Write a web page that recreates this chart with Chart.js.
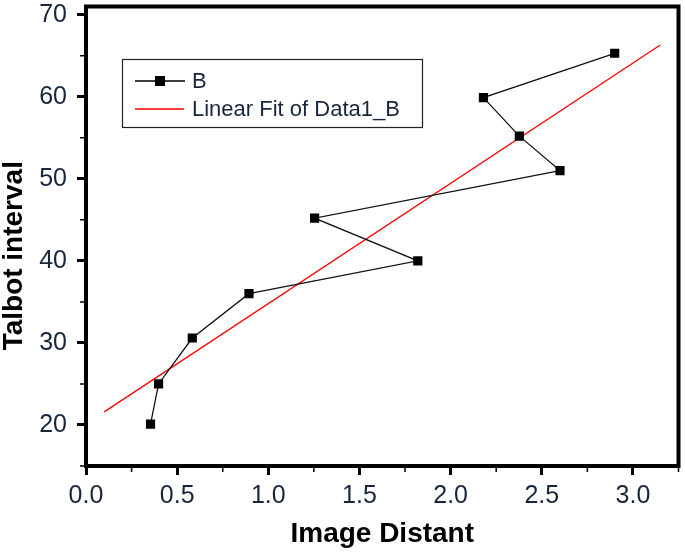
<!DOCTYPE html>
<html>
<head>
<meta charset="utf-8">
<script src="https://cdn.jsdelivr.net/npm/chart.js@4"></script>
<style>
  html, body { margin: 0; padding: 0; background: #fff; }
  #wrap { width: 685px; height: 552px; }
</style>
</head>
<body>
<div id="wrap"><canvas id="talbot-chart"></canvas></div>
<script>
// measured points (image distant vs talbot interval)
const imageDistant = [0.354, 0.398, 0.583, 0.894, 1.82, 1.254, 2.60, 2.377, 2.18, 2.90];
const talbotInterval = [20.1, 25.0, 30.6, 36.0, 40.0, 45.2, 51.0, 55.2, 59.9, 65.3];

// ends of the fitted line
const fitX = [0.1, 3.15];
const fitY = [21.6, 66.3];

const xMajorTicks = [0, 0.5, 1.0, 1.5, 2.0, 2.5, 3.0];
const xMinorTicks = [0.25, 0.75, 1.25, 1.75, 2.25, 2.75, 3.25];
const yMajorTicks = [20, 30, 40, 50, 60, 70];
const yMinorTicks = [15, 25, 35, 45, 55, 65];

const seriesLabels = ["B", "Linear Fit of Data1_B"];

const toXY = (xs, ys) => xs.map((x, i) => ({ x: x, y: ys[i] }));

const FONT = "'Liberation Sans', Arial, sans-serif";
const TEXT = "#17253d";

// outer box and the short minor ticks
const framePlugin = {
  id: "frame",
  afterDraw(chart) {
    const { ctx, chartArea: a, scales } = chart;
    ctx.save();
    ctx.strokeStyle = "#000";
    ctx.lineWidth = 1.5;
    ctx.beginPath();
    xMinorTicks.forEach(v => {
      const px = scales.x.getPixelForValue(v);
      ctx.moveTo(px, a.bottom);
      ctx.lineTo(px, a.bottom + 6);
    });
    yMinorTicks.forEach(v => {
      const py = scales.y.getPixelForValue(v);
      ctx.moveTo(a.left, py);
      ctx.lineTo(a.left - 6, py);
    });
    ctx.stroke();
    ctx.lineWidth = 4;
    ctx.strokeRect(a.left, a.top, a.right - a.left, a.bottom - a.top);
    ctx.restore();
  }
};

// boxed legend in the upper left, like the original
const boxLegend = {
  id: "boxLegend",
  afterDraw(chart) {
    const ctx = chart.ctx;
    const ds = chart.data.datasets;
    ctx.save();
    ctx.strokeStyle = "#222";
    ctx.lineWidth = 1.2;
    ctx.strokeRect(122.5, 59.5, 300, 68);

    ctx.font = "22px " + FONT;
    ctx.textBaseline = "middle";
    ctx.fillStyle = TEXT;

    // row 1: line + square
    ctx.strokeStyle = "#000";
    ctx.lineWidth = 1.5;
    ctx.beginPath();
    ctx.moveTo(135, 81); ctx.lineTo(185, 81);
    ctx.stroke();
    ctx.fillStyle = "#000";
    ctx.fillRect(155, 76, 10, 10);
    ctx.fillStyle = TEXT;
    ctx.fillText(ds[0].label, 192, 82);

    // row 2: red line
    ctx.strokeStyle = "#ff0000";
    ctx.lineWidth = 1.5;
    ctx.beginPath();
    ctx.moveTo(135, 109); ctx.lineTo(184, 109);
    ctx.stroke();
    ctx.fillText(ds[1].label, 192, 110);
    ctx.restore();
  }
};

new Chart(document.getElementById("talbot-chart"), {
  type: "scatter",
  data: {
    datasets: [{
        label: seriesLabels[0],
        data: toXY(imageDistant, talbotInterval),
        showLine: true,
        borderColor: "#111",
        borderWidth: 1.3,
        pointStyle: "rect",
        pointRadius: 6.5,
        pointHoverRadius: 6.5,
        pointBackgroundColor: "#000",
        pointBorderColor: "#000",
        pointBorderWidth: 0
      }, {
        label: seriesLabels[1],
        data: toXY(fitX, fitY),
        showLine: true,
        borderColor: "#ff0000",
        borderWidth: 1.3,
        pointRadius: 0,
        pointHoverRadius: 0
      }
    ]
  },
  options: {
    responsive: true,
    maintainAspectRatio: false,
    animation: false,
    layout: {
      padding: { top: 4, right: 3, left: 0, bottom: 0 }
    },
    plugins: {
      legend: { display: false },
      tooltip: { enabled: false }
    },
    scales: {
      x: {
        type: "linear",
        min: 0,
        max: 3.25,
        afterFit(scale) {
          scale.height = 86;
          scale.paddingLeft = 0;
          scale.paddingRight = 0;
        },
        afterBuildTicks(scale) { scale.ticks = xMajorTicks.map(v => ({ value: v })); },
        border: { display: false },
        grid: {
          drawOnChartArea: false,
          drawTicks: true,
          tickLength: 9,
          tickWidth: 3,
          tickColor: "#000"
        },
        ticks: {
          padding: 6,
          color: TEXT,
          font: { family: FONT, size: 25 },
          maxRotation: 0,
          callback: v => Number(v).toFixed(1)
        },
        title: {
          display: true,
          text: "Image Distant",
          color: "#000",
          font: { family: FONT, size: 28, weight: "bold", lineHeight: 1 },
          padding: { top: 0, bottom: 4 }
        }
      },
      y: {
        type: "linear",
        min: 15,
        max: 71,
        afterFit(scale) {
          scale.width = 86;
          scale.paddingTop = 0;
          scale.paddingBottom = 0;
        },
        afterBuildTicks(scale) { scale.ticks = yMajorTicks.map(v => ({ value: v })); },
        border: { display: false },
        grid: {
          drawOnChartArea: false,
          drawTicks: true,
          tickLength: 9,
          tickWidth: 3,
          tickColor: "#000"
        },
        ticks: {
          padding: 10,
          color: TEXT,
          font: { family: FONT, size: 25 }
        },
        title: {
          display: true,
          text: "Talbot interval     ",
          color: "#000",
          font: { family: FONT, size: 28, weight: "bold", lineHeight: 1 },
          padding: { top: 0, bottom: 0 }
        }
      }
    }
  },
  plugins: [framePlugin, boxLegend]
});
</script>
</body>
</html>
